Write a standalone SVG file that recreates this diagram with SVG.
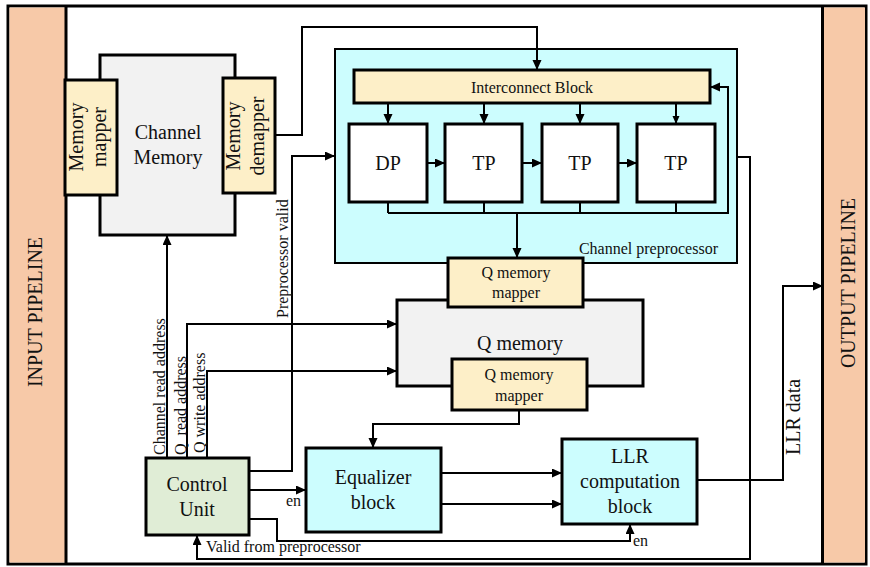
<svg xmlns="http://www.w3.org/2000/svg" width="870" height="567" viewBox="0 0 870 567">
  <style>
    text { font-family: "Liberation Serif", "Times New Roman", serif; fill: #111; }
    .box { stroke: #000; stroke-width: 3; }
    .mem { fill: #f2f2f2; }
    .map { fill: #fdefc8; }
    .cyan { fill: #ccfdfe; }
    .pipe { fill: #f7c9a8; }
    .wire { fill: none; stroke: #000; stroke-width: 2; }
    .big { font-size: 20px; }
    .mid { font-size: 16px; }
    .vc { dominant-baseline: central; }
  </style>
  <defs>
    <marker id="arrow" markerUnits="userSpaceOnUse" markerWidth="11" markerHeight="10" refX="10" refY="4.5" orient="auto">
      <path d="M0,0 L10,4.5 L0,9 z" fill="#000"/>
    </marker>
    <marker id="arrow-s" markerUnits="userSpaceOnUse" markerWidth="9" markerHeight="8" refX="8" refY="3.5" orient="auto">
      <path d="M0,0 L8,3.5 L0,7 z" fill="#000"/>
    </marker>
  </defs>

  <!-- frame and background -->
  <rect x="8" y="6" width="858" height="558" fill="#fff" stroke="#000" stroke-width="3"/>

  <g id="input-pipeline">
    <rect x="9.5" y="7.5" width="56" height="555" class="pipe" stroke="none"/>
    <line x1="66" y1="6" x2="66" y2="564" stroke="#000" stroke-width="3"/>
    <text class="big vc" text-anchor="middle" transform="translate(35,312) rotate(-90)" font-size="21">INPUT PIPELINE</text>
  </g>

  <g id="output-pipeline">
    <rect x="823" y="7.5" width="42" height="555" class="pipe" stroke="none"/>
    <line x1="822.5" y1="6" x2="822.5" y2="564" stroke="#000" stroke-width="3"/>
    <text class="big vc" text-anchor="middle" transform="translate(848,283) rotate(-90)" font-size="21">OUTPUT PIPELINE</text>
  </g>

  <g id="channel-memory">
    <rect x="100" y="55" width="135" height="180" class="box mem"/>
    <text class="big" text-anchor="middle" x="168" y="139">Channel</text>
    <text class="big" text-anchor="middle" x="168" y="164">Memory</text>
  </g>

  <g id="memory-mapper">
    <rect x="65" y="80" width="52" height="115" class="box map"/>
    <text class="big vc" text-anchor="middle" transform="translate(76,137) rotate(-90)">Memory</text>
    <text class="big vc" text-anchor="middle" transform="translate(99,137) rotate(-90)">mapper</text>
  </g>

  <g id="memory-demapper">
    <rect x="223" y="78" width="52" height="115" class="box map"/>
    <text class="big vc" text-anchor="middle" transform="translate(233,136) rotate(-90)">Memory</text>
    <text class="big vc" text-anchor="middle" transform="translate(257,136) rotate(-90)">demapper</text>
  </g>

  <g id="channel-preprocessor">
    <rect x="335" y="49" width="402" height="214" class="cyan" stroke="#000" stroke-width="2"/>
    <text class="mid" text-anchor="end" x="718" y="254">Channel preprocessor</text>
  </g>

  <g id="interconnect-block">
    <rect x="354" y="70" width="356" height="33" class="box map"/>
    <text class="mid vc" text-anchor="middle" x="532" y="87">Interconnect Block</text>
  </g>

  <g id="dp">
    <rect x="349" y="124" width="78" height="78" class="box" fill="#fff"/>
    <text class="big vc" text-anchor="middle" x="388" y="163" font-size="21">DP</text>
  </g>
  <g id="tp1">
    <rect x="445" y="124" width="77" height="78" class="box" fill="#fff"/>
    <text class="big vc" text-anchor="middle" x="484" y="163" font-size="21">TP</text>
  </g>
  <g id="tp2">
    <rect x="542" y="124" width="76" height="78" class="box" fill="#fff"/>
    <text class="big vc" text-anchor="middle" x="580" y="163" font-size="21">TP</text>
  </g>
  <g id="tp3">
    <rect x="637" y="124" width="78" height="78" class="box" fill="#fff"/>
    <text class="big vc" text-anchor="middle" x="676" y="163" font-size="21">TP</text>
  </g>

  <g id="q-memory">
    <rect x="397" y="300" width="246" height="86" class="box mem"/>
    <text class="big vc" text-anchor="middle" x="520" y="343" font-size="21">Q memory</text>
  </g>

  <g id="q-memory-mapper-in">
    <rect x="448" y="258" width="135" height="49" class="box map"/>
    <text class="mid" text-anchor="middle" x="516" y="278">Q memory</text>
    <text class="mid" text-anchor="middle" x="516" y="298">mapper</text>
  </g>

  <g id="q-memory-mapper-out">
    <rect x="452" y="359" width="135" height="51" class="box map"/>
    <text class="mid" text-anchor="middle" x="519" y="380">Q memory</text>
    <text class="mid" text-anchor="middle" x="519" y="401">mapper</text>
  </g>

  <g id="equalizer-block">
    <rect x="306" y="448" width="135" height="84" class="box cyan"/>
    <text class="big" text-anchor="middle" x="373" y="484">Equalizer</text>
    <text class="big" text-anchor="middle" x="373" y="509">block</text>
  </g>

  <g id="llr-block">
    <rect x="562" y="439" width="135" height="85" class="box cyan"/>
    <text class="big" text-anchor="middle" x="630" y="463">LLR</text>
    <text class="big" text-anchor="middle" x="630" y="488">computation</text>
    <text class="big" text-anchor="middle" x="630" y="513">block</text>
  </g>

  <g id="control-unit">
    <rect x="146" y="458" width="103" height="77" class="box" fill="#e0edd6"/>
    <text class="big" text-anchor="middle" x="197" y="491">Control</text>
    <text class="big" text-anchor="middle" x="197" y="516">Unit</text>
  </g>

  <g id="connectors">
    <!-- demapper to interconnect -->
    <path class="wire" d="M275,135 H302 V27 H537 V70" marker-end="url(#arrow)"/>
    <!-- interconnect to processors -->
    <path class="wire" d="M388,103 V124" marker-end="url(#arrow)"/>
    <path class="wire" d="M484,103 V124" marker-end="url(#arrow)"/>
    <path class="wire" d="M580,103 V124" marker-end="url(#arrow)"/>
    <path class="wire" d="M676,103 V124" stroke-width="1.5" marker-end="url(#arrow-s)"/>
    <!-- processor chain -->
    <path class="wire" d="M427,163 H445" marker-end="url(#arrow)"/>
    <path class="wire" d="M522,163 H542" marker-end="url(#arrow)"/>
    <path class="wire" d="M618,163 H637" marker-end="url(#arrow)"/>
    <!-- output bus and feedback -->
    <path class="wire" d="M388,202 V213 M484,202 V213 M580,202 V213 M676,202 V213"/>
    <path class="wire" d="M388,213 H728 V87 H710" marker-end="url(#arrow)"/>
    <path class="wire" d="M517,213 V258" marker-end="url(#arrow)"/>
    <!-- Q memory to equalizer -->
    <path class="wire" d="M519,410 V424 H373 V448" marker-end="url(#arrow)"/>
    <!-- equalizer to LLR -->
    <path class="wire" d="M441,473 H562" marker-end="url(#arrow)"/>
    <path class="wire" d="M441,504 H562" marker-end="url(#arrow)"/>
    <!-- LLR data -->
    <path class="wire" d="M697,480 H783 V286 H823" marker-end="url(#arrow)"/>
    <!-- valid from preprocessor -->
    <path class="wire" d="M737,157 H750 V559 H197 V535" marker-end="url(#arrow)"/>
    <!-- control unit outputs -->
    <path class="wire" d="M167,458 V235" marker-end="url(#arrow)"/>
    <path class="wire" d="M187,458 V324 H397" marker-end="url(#arrow)"/>
    <path class="wire" d="M207,458 V371 H397" marker-end="url(#arrow)"/>
    <path class="wire" d="M249,471 H292 V156 H335" marker-end="url(#arrow)"/>
    <path class="wire" d="M249,490 H306" marker-end="url(#arrow)"/>
    <path class="wire" d="M249,519 H277 V541 H630 V524" marker-end="url(#arrow)"/>

    <!-- connector labels -->
    <text class="mid vc" transform="translate(159,455) rotate(-90)">Channel read address</text>
    <text class="mid vc" transform="translate(180,455) rotate(-90)" xml:space="preserve">Q  read address</text>
    <text class="mid vc" transform="translate(199,453) rotate(-90)">Q write address</text>
    <text class="mid vc" transform="translate(282,318) rotate(-90)">Preprocessor valid</text>
    <text class="big vc" transform="translate(793,455) rotate(-90)">LLR data</text>
    <text class="mid" x="286" y="506">en</text>
    <text class="mid" x="633" y="546">en</text>
    <text class="mid" x="206" y="552">Valid from preprocessor</text>
  </g>
</svg>
